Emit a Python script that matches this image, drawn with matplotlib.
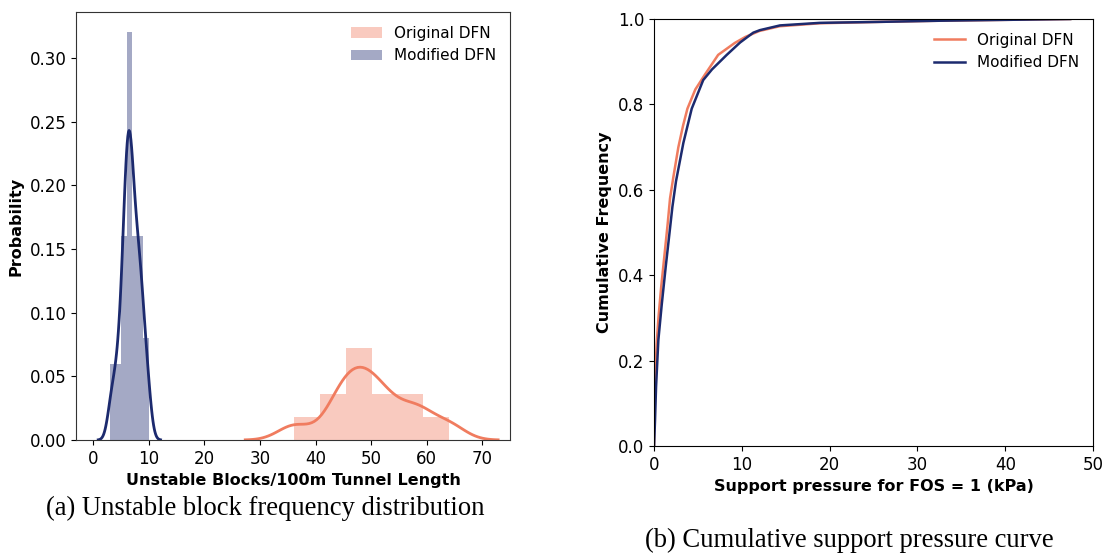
# unstable block distribution + cumulative support pressure

import numpy as np
import matplotlib
matplotlib.use("Agg")
import matplotlib.pyplot as plt

# --- data ---
# unstable blocks / 100 m for the original DFN (12 runs)
orig_blocks = [36.2, 43.5, 44.8, 46.2, 47.8, 48.8, 49.8, 52.0, 53.5, 57.5, 59.0, 64.0]
# modified DFN (50 runs)
mod_blocks = [3.0, 3.4, 3.8,
              4.2, 4.5, 4.8,
              5.05, 5.2, 5.35, 5.5, 5.6, 5.7, 5.8, 5.9,
              6.0, 6.05, 6.1, 6.15, 6.2, 6.3, 6.35, 6.4,
              6.5, 6.55, 6.6, 6.7, 6.75, 6.8, 6.9, 6.95,
              7.05, 7.2, 7.3, 7.4, 7.55, 7.65, 7.8, 7.9,
              8.05, 8.15, 8.3, 8.4, 8.5, 8.65, 8.8, 8.9,
              9.2, 9.5, 9.75, 10.0]

# cumulative support pressure curves
orig_p = [0, 0.05, 0.15, 0.3, 0.5, 0.8, 1.2, 1.55, 1.82, 2.2, 2.77, 3.3, 3.8,
          4.7, 5.8, 7.3, 9.2, 10.4, 12.0, 14.3, 18.9, 25.0, 32.6, 40.0, 47.4]
orig_cf = [0, 0.1, 0.17, 0.24, 0.3, 0.37, 0.45, 0.52, 0.58, 0.63, 0.70, 0.75,
           0.79, 0.835, 0.87, 0.916, 0.944, 0.958, 0.972, 0.983, 0.99, 0.993,
           0.996, 0.998, 1.0]
mod_p = [0, 0.11, 0.23, 0.49, 0.87, 1.33, 1.82, 2.09, 2.5, 3.34, 4.29, 5.6,
         6.6, 8.28, 9.8, 11.3, 12.07, 14.35, 18.9, 25.0, 32.6, 40.0, 47.4]
mod_cf = [0, 0.06, 0.139, 0.248, 0.33, 0.42, 0.51, 0.56, 0.62, 0.71, 0.79,
          0.857, 0.882, 0.916, 0.945, 0.968, 0.974, 0.985, 0.991, 0.993, 0.996,
          0.998, 1.0]

orange = "#F07C5F"
navy = "#1C2A6E"


def kde(sample, bw, cut=3, gridsize=100):
    sample = np.asarray(sample, dtype=float)
    grid = np.linspace(sample.min() - cut * bw, sample.max() + cut * bw, gridsize)
    z = (grid[:, None] - sample[None, :]) / bw
    dens = np.exp(-0.5 * z ** 2).sum(axis=1) / (len(sample) * bw * np.sqrt(2 * np.pi))
    return grid, dens


fig = plt.figure(figsize=(11.05, 5.54), dpi=100)

# (a) histogram + kde
ax1 = fig.add_axes([0.0688, 0.2058, 0.3928, 0.7726])
ax1.hist(orig_blocks, bins=6, density=True, color=orange, alpha=0.4, label="Original DFN")
gx, gy = kde(orig_blocks, 2.95)
ax1.plot(gx, gy, color=orange, lw=2)
ax1.hist(mod_blocks, bins=7, density=True, color=navy, alpha=0.4, label="Modified DFN")
gx, gy = kde(mod_blocks, 0.7)
ax1.plot(gx, gy, color=navy, lw=2)
ax1.set_xlim(-3.1, 75)
ax1.set_ylim(0, 0.336)
ax1.set_xticks(range(0, 80, 10))
ax1.set_yticks(np.arange(0, 0.31, 0.05))
ax1.tick_params(labelsize=12)
ax1.set_xlabel("Unstable Blocks/100m Tunnel Length", fontsize=11.5, fontweight="bold")
ax1.set_ylabel("Probability", fontsize=11.5, fontweight="bold")
ax1.legend(loc="upper right", frameon=False, fontsize=11)
for s in ax1.spines.values():
    s.set_color("#333333")

# (b) cumulative curves
ax2 = fig.add_axes([0.5919, 0.1949, 0.3973, 0.7708])
ax2.plot(orig_p, orig_cf, color=orange, lw=1.8, label="Original DFN")
ax2.plot(mod_p, mod_cf, color=navy, lw=1.8, label="Modified DFN")
ax2.set_xlim(0, 50)
ax2.set_ylim(0, 1)
ax2.tick_params(labelsize=12)
ax2.set_xlabel("Support pressure for FOS = 1 (kPa)", fontsize=11.5, fontweight="bold")
ax2.set_ylabel("Cumulative Frequency", fontsize=11.5, fontweight="bold")
ax2.legend(loc="upper right", frameon=False, fontsize=11)

fig.text(0.24, 0.083, "(a) Unstable block frequency distribution",
         family="Liberation Serif", fontsize=19.2, ha="center", va="center")
fig.text(0.769, 0.025, "(b) Cumulative support pressure curve",
         family="Liberation Serif", fontsize=19.2, ha="center", va="center")

fig.savefig("out.png", dpi=100)
